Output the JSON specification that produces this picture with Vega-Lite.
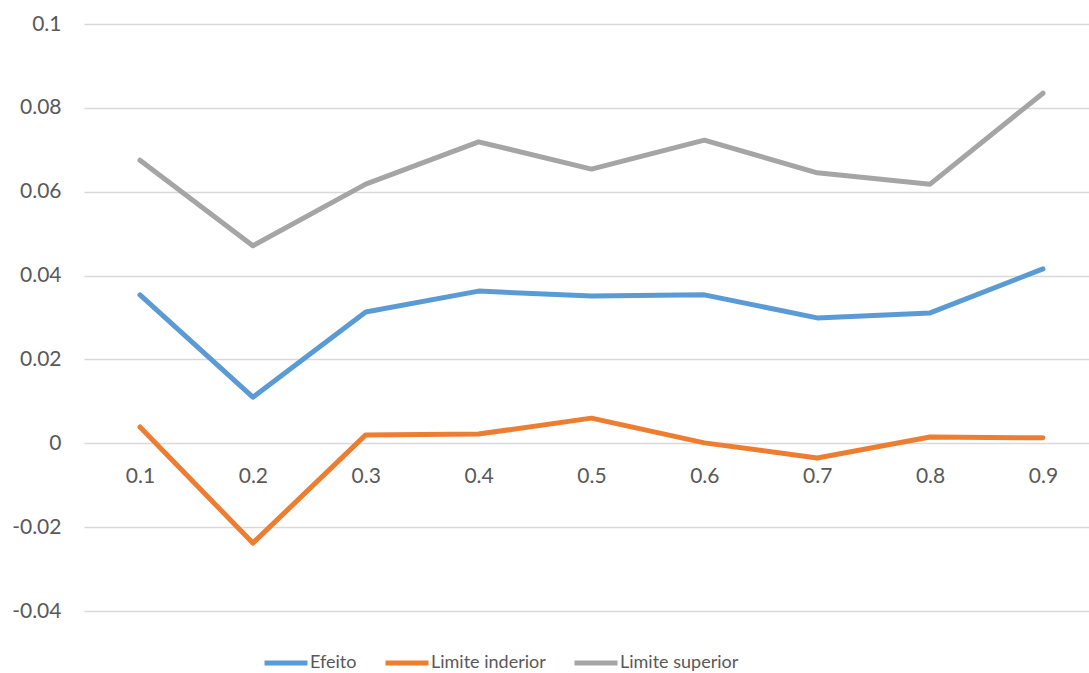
{
  "$schema": "https://vega.github.io/schema/vega-lite/v6.json",
  "autosize": "none",
  "width": 1005,
  "height": 587,
  "padding": {"left": 84, "top": 24, "right": 0, "bottom": 62},
  "background": "white",
  "config": {"view": {"stroke": null}, "font": "Lato"},
  "data": {"values": [
    {"x": 0.1, "serie": "Efeito", "valor": 0.0354},
    {"x": 0.2, "serie": "Efeito", "valor": 0.0110},
    {"x": 0.3, "serie": "Efeito", "valor": 0.0313},
    {"x": 0.4, "serie": "Efeito", "valor": 0.0363},
    {"x": 0.5, "serie": "Efeito", "valor": 0.0351},
    {"x": 0.6, "serie": "Efeito", "valor": 0.0354},
    {"x": 0.7, "serie": "Efeito", "valor": 0.0299},
    {"x": 0.8, "serie": "Efeito", "valor": 0.0311},
    {"x": 0.9, "serie": "Efeito", "valor": 0.0416},
    {"x": 0.1, "serie": "Limite inderior", "valor": 0.0039},
    {"x": 0.2, "serie": "Limite inderior", "valor": -0.0238},
    {"x": 0.3, "serie": "Limite inderior", "valor": 0.0020},
    {"x": 0.4, "serie": "Limite inderior", "valor": 0.0022},
    {"x": 0.5, "serie": "Limite inderior", "valor": 0.0060},
    {"x": 0.6, "serie": "Limite inderior", "valor": 0.0001},
    {"x": 0.7, "serie": "Limite inderior", "valor": -0.0035},
    {"x": 0.8, "serie": "Limite inderior", "valor": 0.0015},
    {"x": 0.9, "serie": "Limite inderior", "valor": 0.0013},
    {"x": 0.1, "serie": "Limite superior", "valor": 0.0675},
    {"x": 0.2, "serie": "Limite superior", "valor": 0.0471},
    {"x": 0.3, "serie": "Limite superior", "valor": 0.0618},
    {"x": 0.4, "serie": "Limite superior", "valor": 0.0719},
    {"x": 0.5, "serie": "Limite superior", "valor": 0.0654},
    {"x": 0.6, "serie": "Limite superior", "valor": 0.0723},
    {"x": 0.7, "serie": "Limite superior", "valor": 0.0645},
    {"x": 0.8, "serie": "Limite superior", "valor": 0.0618},
    {"x": 0.9, "serie": "Limite superior", "valor": 0.0835}
  ]},
  "mark": {"type": "line", "strokeWidth": 5, "strokeCap": "round", "strokeJoin": "round"},
  "encoding": {
    "x": {
      "field": "x", "type": "quantitative",
      "scale": {"domain": [0.0504, 0.9408], "nice": false, "zero": false},
      "axis": {
        "title": null, "values": [0.1, 0.2, 0.3, 0.4, 0.5, 0.6, 0.7, 0.8, 0.9],
        "labelExpr": "format(datum.value, '.1f')",
        "offset": -167.7, "domain": false, "ticks": false, "tickSize": 0, "grid": false,
        "labelPadding": 22, "labelFont": "Lato", "labelFontSize": 21, "labelColor": "#595959",
        "labelFlush": false, "labelOverlap": false
      }
    },
    "y": {
      "field": "valor", "type": "quantitative",
      "scale": {"domain": [-0.04, 0.1], "nice": false, "zero": false},
      "axis": {
        "title": null, "values": [-0.04, -0.02, 0, 0.02, 0.04, 0.06, 0.08, 0.1],
        "labelExpr": "'' + datum.value",
        "domain": false, "ticks": false, "tickSize": 0,
        "grid": true, "gridColor": "#D9D9D9", "gridWidth": 1.3,
        "labelPadding": 23, "labelFont": "Lato", "labelFontSize": 21, "labelColor": "#595959",
        "labelFlush": false, "labelOverlap": false
      }
    },
    "color": {
      "field": "serie", "type": "nominal",
      "scale": {"domain": ["Efeito", "Limite inderior", "Limite superior"], "range": ["#5B9BD5", "#ED7D31", "#A5A5A5"]},
      "legend": {
        "title": null, "orient": "none", "legendX": 178, "legendY": 615, "direction": "horizontal",
        "symbolType": "stroke", "symbolSize": 1849, "symbolStrokeWidth": 5,
        "labelFont": "Lato", "labelFontSize": 18, "labelColor": "#595959",
        "columnPadding": 18, "labelOffset": 0
      }
    }
  }
}
